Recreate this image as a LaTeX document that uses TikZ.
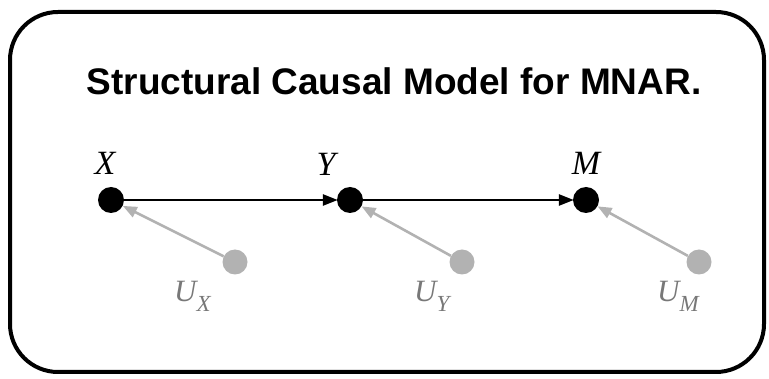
\documentclass[tikz,border=0pt]{standalone}
\usepackage{fontspec}
\newfontfamily\titlefont{Liberation Sans}
\newfontfamily\varfont{Liberation Serif}
\usetikzlibrary{arrows.meta,positioning}

\definecolor{noisegray}{RGB}{178,178,178}
\definecolor{labelgray}{RGB}{120,120,120}

\newcommand{\lowsub}[1]{\raisebox{-10pt}{\fontsize{23}{23}\selectfont #1}}

\tikzset{
    var/.style={circle, fill=black, minimum size=26pt, inner sep=0pt},
    noise/.style={circle, fill=noisegray, minimum size=25pt, inner sep=0pt},
    cause/.style={-{Triangle[length=15pt,width=11pt]}, line width=2.6pt, shorten >=-1pt},
    noisearrow/.style={-{Triangle[length=14pt,width=11pt]}, line width=2.6pt, draw=noisegray},
    varlabel/.style={font=\varfont\itshape\fontsize{34}{36}\selectfont, inner sep=0pt, anchor=base},
    noiselabel/.style={font=\varfont\itshape\fontsize{31}{34}\selectfont, text=labelgray, inner sep=0pt, anchor=base west}
}

\begin{document}
\begin{tikzpicture}[x=1pt, y=-1pt]
    \useasboundingbox (0,0) rectangle (769,379);

    % frame and title
    \draw[line width=4pt, rounded corners=48pt] (10,12) rectangle (764,372);
    \node[font=\titlefont\bfseries\fontsize{37}{40}\selectfont, anchor=base] (title) at (394,95) {Structural Causal Model for MNAR.};

    % observed variables
    \node[var] (X) at (111,200) {};
    \node[var] (Y) at (350,200) {};
    \node[var] (M) at (586,200) {};

    % exogenous noise
    \node[noise] (UX) at (235,262) {};
    \node[noise] (UY) at (462,262) {};
    \node[noise] (UM) at (699,262) {};

    % labels
    \node[varlabel] (Xlab) at (105,175) {X};
    \node[varlabel] (Ylab) at (326,176) {Y};
    \node[varlabel] (Mlab) at (586,175) {M};
    \node[noiselabel] (UXlab) at (174,302) {U\lowsub{X}};
    \node[noiselabel] (UYlab) at (414,302) {U\lowsub{Y}};
    \node[noiselabel] (UMlab) at (657,302) {U\lowsub{M}};

    % edges
    \draw[cause] (X) -- (Y);
    \draw[cause] (Y) -- (M);
    \draw[noisearrow] (UX) -- (X);
    \draw[noisearrow] (UY) -- (Y);
    \draw[noisearrow] (UM) -- (M);
\end{tikzpicture}
\end{document}
